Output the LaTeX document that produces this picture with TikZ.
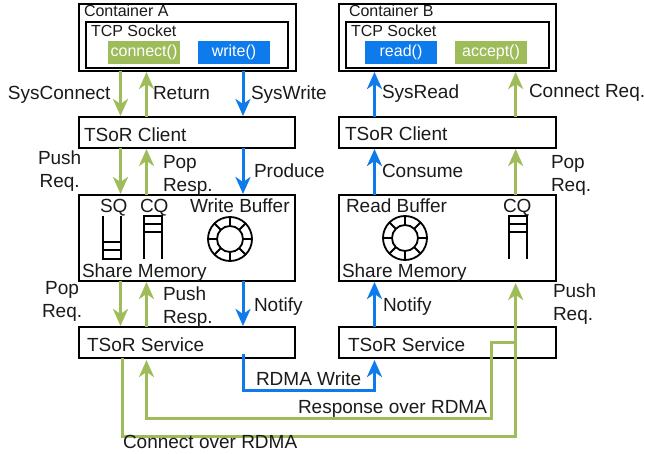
\documentclass[tikz,border=0pt]{standalone}
\usepackage{fontspec}
\setmainfont{Liberation Sans}
\usetikzlibrary{arrows.meta}
\definecolor{tgreen}{HTML}{9FBC5B}
\definecolor{tblue}{HTML}{0D7BEB}
\definecolor{tink}{HTML}{1A1A1A}
\tikzset{
  x=1pt,y=-1pt,
  boxn/.style={draw=black,line width=1.8pt,rectangle,inner sep=0pt,outer sep=0pt,anchor=north west},
  lab/.style={font=\fontsize{19}{23}\selectfont,text=tink,inner sep=0pt,outer sep=0pt,anchor=base west},
  lablines/.style={lab,anchor=west,align=left},
  small/.style={font=\fontsize{16}{19}\selectfont,text=tink,inner sep=0pt,outer sep=0pt,anchor=base west},
  fbtn/.style={fill=#1,font=\fontsize{16}{19}\selectfont,text=white,inner sep=0pt,outer sep=0pt,anchor=north west,minimum width=72pt,minimum height=23pt},
  wire/.style={line width=3pt,-{Stealth[length=17pt,width=15pt,inset=5pt]}},
  gwire/.style={wire,draw=tgreen},
  bwire/.style={wire,draw=tblue},
  icon/.style={line width=1.8pt,draw=black},
}
\newcommand{\ringbuf}[2]{%
  \draw[icon] (#1,#2) circle[radius=22pt];
  \draw[icon] (#1,#2) circle[radius=13pt];
  \foreach \a in {0,45,...,315}{\draw[icon] ([shift={(\a:13pt)}]#1,#2) -- ([shift={(\a:22pt)}]#1,#2);}
}
\newcommand{\cqicon}[1]{%
  \draw[icon] (#1,259) -- (#1,216) -- (#1+18,216) -- (#1+18,259);
  \draw[icon] (#1,224) -- (#1+18,224);
  \draw[icon] (#1,232) -- (#1+18,232);
}
\begin{document}
\begin{tikzpicture}
\useasboundingbox (0,0) rectangle (645,454);
% boxes, side A
\node[boxn,minimum width=217pt,minimum height=67pt] (ca) at (79,4) {};
\node[boxn,minimum width=202pt,minimum height=46pt] (sa) at (86,22) {};
\node[fbtn=tgreen] (conn) at (108,41) {connect()};
\node[fbtn=tblue] (wr) at (198,41) {write()};
\node[boxn,minimum width=216pt,minimum height=31pt] (cla) at (79,117) {};
\node[boxn,minimum width=216pt,minimum height=86pt] (ma) at (79,195) {};
\node[boxn,minimum width=216pt,minimum height=31pt] (sva) at (79,327) {};
% boxes, side B
\node[boxn,minimum width=217pt,minimum height=67pt] (cb) at (339,4) {};
\node[boxn,minimum width=203pt,minimum height=46pt] (sb) at (346,22) {};
\node[fbtn=tblue] (rd) at (365,41) {read()};
\node[fbtn=tgreen] (acc) at (455,41) {accept()};
\node[boxn,minimum width=217pt,minimum height=31pt] (clb) at (339,117) {};
\node[boxn,minimum width=217pt,minimum height=86pt] (mb) at (339,195) {};
\node[boxn,minimum width=217pt,minimum height=31pt] (svb) at (339,327) {};
% guides
\coordinate (g1) at (120.5,0);
\coordinate (g2) at (146.5,0);
\coordinate (g3) at (243,0);
\coordinate (g4) at (374.5,0);
\coordinate (g5) at (515.7,0);
\coordinate (g6) at (122,0);
\coordinate (g7) at (491.7,0);
\coordinate (h1) at (0,390);
\coordinate (h2) at (0,418);
\coordinate (h3) at (0,436);
\coordinate (h4) at (0,342);
% side A connectors
\draw[gwire] (ca.south -| g1) -- ([yshift=1pt]cla.north -| g1);
\draw[gwire] (cla.north -| g2) -- ([yshift=-1pt]ca.south -| g2);
\draw[bwire] (ca.south -| g3) -- ([yshift=1pt]cla.north -| g3);
\draw[gwire] (cla.south -| g1) -- ([yshift=1pt]ma.north -| g1);
\draw[gwire] (ma.north -| g2) -- ([yshift=-1pt]cla.south -| g2);
\draw[bwire] (cla.south -| g3) -- ([yshift=1pt]ma.north -| g3);
\draw[gwire] (ma.south -| g1) -- ([yshift=1pt]sva.north -| g1);
\draw[gwire] (sva.north -| g2) -- ([yshift=-1pt]ma.south -| g2);
\draw[bwire] (ma.south -| g3) -- ([yshift=1pt]sva.north -| g3);
% side B connectors
\draw[bwire] (clb.north -| g4) -- ([yshift=-1pt]cb.south -| g4);
\draw[gwire] (clb.north -| g5) -- ([yshift=-1pt]cb.south -| g5);
\draw[bwire] (mb.north -| g4) -- ([yshift=-1pt]clb.south -| g4);
\draw[gwire] (mb.north -| g5) -- ([yshift=-1pt]clb.south -| g5);
\draw[bwire] (svb.north -| g4) -- ([yshift=-1pt]mb.south -| g4);
% long routes
\draw[bwire] ([yshift=4pt]sva.south -| g3) |- (h1 -| g4) -- ([yshift=-2pt]svb.south -| g4);
\draw[gwire] (sva.south -| g6) |- (h3 -| g5) -- ([yshift=-2pt]mb.south -| g5);
\draw[gwire] (h4 -| g5) -- (h4 -| g7) |- (h2 -| g2) -- ([yshift=-2pt]sva.south -| g2);
% text in boxes
\node[small] (tca) at (84,17) {Container A};
\node[small] (tsa) at (91,37) {TCP Socket};
\node[small] (tcb) at (349,17) {Container B};
\node[small] (tsb) at (351,37) {TCP Socket};
\node[lab] (tcla) at (84,142) {TSoR Client};
\node[lab] (tclb) at (345,141) {TSoR Client};
\node[lab] (tsva) at (87,351) {TSoR Service};
\node[lab] (tsvb) at (348,351) {TSoR Service};
\node[lab] (tsq) at (100,212.5) {SQ};
\node[lab] (tcq) at (140,212.5) {CQ};
\node[lab] (twb) at (190,212.5) {Write Buffer};
\node[lab] (trb) at (346,212.5) {Read Buffer};
\node[lab] (tcqb) at (503,212.5) {CQ};
\node[lab] (tma) at (82,278) {Share Memory};
\node[lab] (tmb) at (342,278) {Share Memory};
% icons
\draw[icon] (103,216) -- (103,259) -- (121,259) -- (121,216);
\draw[icon] (103,242) -- (121,242);
\draw[icon] (103,250) -- (121,250);
\cqicon{144}
\cqicon{509}
\ringbuf{230}{239}
\ringbuf{405}{238}
% connector labels
\node[lab] (l1) at (8,99.5) {SysConnect};
\node[lab] (l2) at (153,100) {Return};
\node[lab] (l3) at (251,99.5) {SysWrite};
\node[lab] (l4) at (254,177.5) {Produce};
\node[lablines,align=center] (l5) at (38,171) {Push\\Req.};
\node[lablines] (l6) at (163,175) {Pop\\Resp.};
\node[lablines,align=center] (l7) at (42,301) {Pop\\Req.};
\node[lablines] (l8) at (163,307.5) {Push\\Resp.};
\node[lab] (l9) at (254,311) {Notify};
\node[lab] (l10) at (382,99) {SysRead};
\node[lab] (l11) at (529,98) {Connect Req.};
\node[lab] (l12) at (382,178) {Consume};
\node[lablines] (l13) at (551,175) {Pop\\Req.};
\node[lablines] (l14) at (553,304.5) {Push\\Req.};
\node[lab] (l15) at (383,311) {Notify};
\node[lab] (l16) at (256,385) {RDMA Write};
\node[lab] (l17) at (298,413) {Response over RDMA};
\node[lab] (l18) at (123,448) {Connect over RDMA};
\end{tikzpicture}
\end{document}
